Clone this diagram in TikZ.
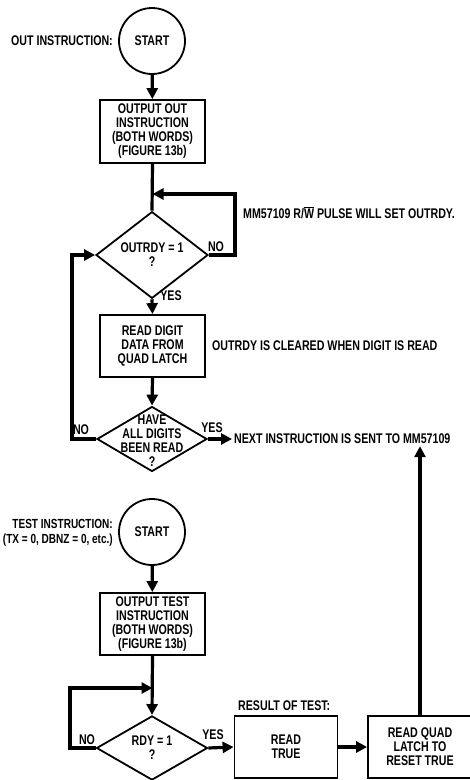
\documentclass[tikz,border=0pt]{standalone}
\usepackage{fontspec}
\setmainfont{Liberation Sans}[FakeStretch=0.76]
\usepackage{tikz}
\usetikzlibrary{shapes.geometric,arrows.meta}

\begin{document}
\begin{tikzpicture}[x=1pt,y=-1pt,
  font=\bfseries\fontsize{14}{14}\selectfont,
  startc/.style={circle,draw,line width=1.8pt,minimum size=66pt,inner sep=0pt},
  procbox/.style={rectangle,draw,line width=1.8pt,minimum width=105pt,minimum height=62pt,align=center,inner sep=0pt},
  decide/.style={diamond,draw,line width=1.8pt,minimum width=112pt,minimum height=64pt,inner sep=0pt,align=center},
  txt/.style={inner sep=0pt,align=center},
  conn/.style={line width=3.2pt,-{Triangle[length=11pt,width=11pt]}},
  plain/.style={line width=3.2pt}]
\useasboundingbox[fill=white] (0,0) rectangle (470,780);

% OUT instruction
\node[startc] (start1) at (152,41) {START};
\node[txt,anchor=east] (outlbl) at (113,41) {OUT INSTRUCTION:};
\node[procbox,minimum height=63pt] (outbox) at (152.5,131.5) {OUTPUT OUT\\INSTRUCTION\\(BOTH WORDS)\\(FIGURE 13b)};
\node[decide] (outrdy) at (152,255) {OUTRDY = 1\\?};
\node[procbox] (rddigit) at (152.5,346) {READ DIGIT\\DATA FROM\\QUAD LATCH};
\node[decide,minimum width=110pt,minimum height=65pt] (alldig) at (152,439) {};
\node[txt] (alldigtxt) at (152,441) {HAVE\\ALL DIGITS\\BEEN READ\\?};
\coordinate (loop1) at (235,194);
\coordinate (loop2) at (72,439);

\draw[conn] (start1) -- (outbox);
\draw[plain] (outbox.south) -- (outrdy.north);
\draw[conn] (outrdy.east) -| (loop1) -- (loop1 -| outbox.south);
\draw[conn] (outrdy.south) -- (rddigit.north);
\draw[conn] (rddigit.south) -- (alldig.north);
\draw[conn] (alldig.west) -- (loop2) |- (outrdy.west);

\node[txt] (no1) at (216,247) {NO};
\node[txt] (yes1) at (171,296) {YES};
\node[txt] (no2) at (81,430) {NO};
\node[txt] (yes2) at (212,428) {YES};
\node[txt,anchor=west] (pulse) at (243,213) {MM57109 R/$\overline{\mbox{W}}$ PULSE WILL SET OUTRDY.};
\node[txt,anchor=west] (cleared) at (212,346) {OUTRDY IS CLEARED WHEN DIGIT IS READ};
\node[txt,anchor=west,inner sep=2pt] (nextins) at (232,439) {NEXT INSTRUCTION IS SENT TO MM57109};
\draw[conn] (alldig.east) -- (nextins.west);

% TEST instruction
\node[startc] (start2) at (152,532) {START};
\node[txt,anchor=east,align=right,font=\bfseries\fontsize{13.2}{15}\selectfont] (testlbl) at (113,533) {TEST INSTRUCTION:\\(TX = 0, DBNZ = 0, etc.)};
\node[procbox] (testbox) at (152.5,624) {OUTPUT TEST\\INSTRUCTION\\(BOTH WORDS)\\(FIGURE 13b)};
\node[decide,minimum width=111pt,minimum height=62pt] (rdy) at (152,748) {RDY = 1\\?};
\node[procbox,minimum width=103pt] (rdtrue) at (286,747) {READ\\TRUE};
\node[procbox,minimum width=104pt] (rdquad) at (420,747) {READ QUAD\\LATCH TO\\RESET TRUE};
\node[txt,anchor=west] (result) at (238,706) {RESULT OF TEST:};
\coordinate (loop3) at (70,688);

\draw[conn] (start2) -- (testbox);
\draw[conn] (testbox.south) -- (rdy.north);
\draw[conn] (rdy.west) -| (loop3) -- (loop3 -| testbox.south);
\draw[conn] (rdy.east) -- (rdtrue.west);
\draw[conn] (rdtrue.east) -- (rdquad.west);
\draw[conn] (rdquad.north) -- (rdquad.north |- nextins.south);

\node[txt] (no3) at (87,740) {NO};
\node[txt] (yes3) at (213,735) {YES};
\end{tikzpicture}
\end{document}
